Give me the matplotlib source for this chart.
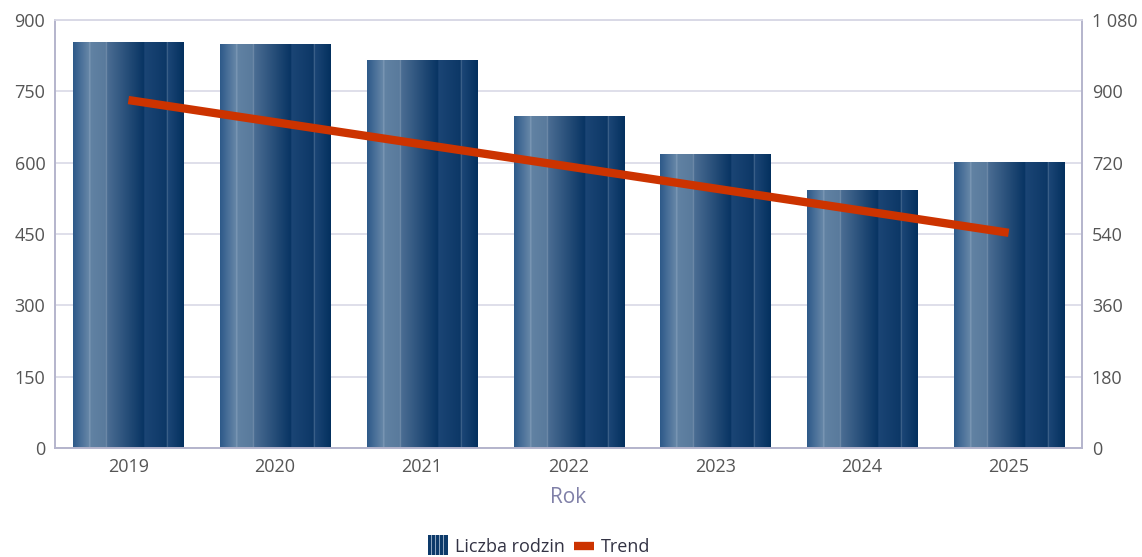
import matplotlib
matplotlib.use("Agg")
import matplotlib.pyplot as plt
import numpy as np
from matplotlib.colors import LinearSegmentedColormap
from matplotlib.legend_handler import HandlerBase
from matplotlib.patches import Rectangle
from matplotlib.lines import Line2D

# ---- data ----
years = ["2019", "2020", "2021", "2022", "2023", "2024", "2025"]
families = [853, 849, 814, 698, 618, 542, 601]
trend_years = ["2019", "2025"]
trend_values = [878, 543]          # on the right axis
left_ticks = [0, 150, 300, 450, 600, 750, 900]
right_ticks = [0, 180, 360, 540, 720, 900, 1080]
right_tick_labels = ["0", "180", "360", "540", "720", "900", "1 080"]
bar_label = "Liczba rodzin"
trend_label = "Trend"
x_title = "Rok"

plt.rcParams['font.family'] = ['Open Sans', 'DejaVu Sans']

# gradient across each bar
stops = [
    (0.00, "#2d5989"), (0.145, "#6787a8"), (0.15, "#8ea6c0"), (0.158, "#6182a3"),
    (0.295, "#597a9c"), (0.30, "#8299b4"), (0.308, "#4b6d93"),
    (0.64, "#083463"), (0.645, "#1b4575"), (0.845, "#0c3766"),
    (0.85, "#6482a3"), (0.856, "#1c4676"), (1.00, "#03305e"),
]
cmap = LinearSegmentedColormap.from_list("barg", stops, N=1024)

fig = plt.figure(figsize=(11.42, 5.57), dpi=100)
ax = fig.add_axes([0.0482, 0.1957, 0.8993, 0.7684])
ax2 = ax.twinx()

x = np.arange(len(years))
bars = ax.bar(x, families, width=0.75, color="none", edgecolor="none", zorder=2)
grad = np.linspace(0, 1, 512).reshape(1, -1)
for b in bars:
    x0, y0 = b.get_x(), b.get_y()
    w, h = b.get_width(), b.get_height()
    ax.imshow(grad, cmap=cmap, aspect="auto", extent=(x0, x0 + w, y0, y0 + h),
              zorder=2, interpolation="bilinear")

ax.set_xlim(-0.5, len(years) - 0.5)
ax.set_ylim(0, 900)
ax.set_xticks(x)
ax.set_xticklabels(years)
ax.set_yticks(left_ticks)
ax.grid(axis="y", color="#d9d9e6", lw=1.2, zorder=0)
ax.set_axisbelow(True)

tx = [years.index(t) for t in trend_years]
ax2.plot(tx, trend_values, color="#cc3300", lw=6, solid_capstyle="butt", zorder=3)
ax2.set_ylim(0, 1080)
ax2.set_yticks(right_ticks)
ax2.set_yticklabels(right_tick_labels)

for a in (ax, ax2):
    a.tick_params(length=0, labelsize=13, labelcolor="#555555")
    for s in a.spines.values():
        s.set_color("#b4b4cc")
        s.set_linewidth(1.2)
    a.spines["top"].set_color("#d9d9e6")
ax.tick_params(axis="x", pad=7)
ax.tick_params(axis="y", pad=7)
ax2.tick_params(axis="y", pad=7)
ax.set_xlabel(x_title, fontsize=15, color="#8080a8", labelpad=8)


class GradHandler(HandlerBase):
    def create_artists(self, legend, orig_handle, xdescent, ydescent, width, height, fontsize, trans):
        arts = []
        h = fontsize * 1.1
        y0 = -ydescent + (height - h) / 2 + 0.5
        x0 = -xdescent
        arts.append(Rectangle((x0, y0), width, h, facecolor="#0d3a6a",
                              edgecolor="none", transform=trans))
        n = 5
        for i in range(1, n):
            arts.append(Rectangle((x0 + i * width / n - 0.4, y0), 0.8, h,
                                  facecolor="#8ea6c0", edgecolor="none", transform=trans))
        return arts


bar_handle = Rectangle((0, 0), 1, 1)
trend_handle = Line2D([0], [0], color="#cc3300", lw=6, solid_capstyle="butt")
fig.legend([bar_handle, trend_handle], [bar_label, trend_label],
           handler_map={Rectangle: GradHandler()},
           loc="center", bbox_to_anchor=(0.472, 0.018), ncol=2, frameon=False,
           fontsize=13, labelcolor="#333344", handlelength=1.1, handletextpad=0.4,
           columnspacing=0.5)

fig.savefig("out.png", dpi=100)
